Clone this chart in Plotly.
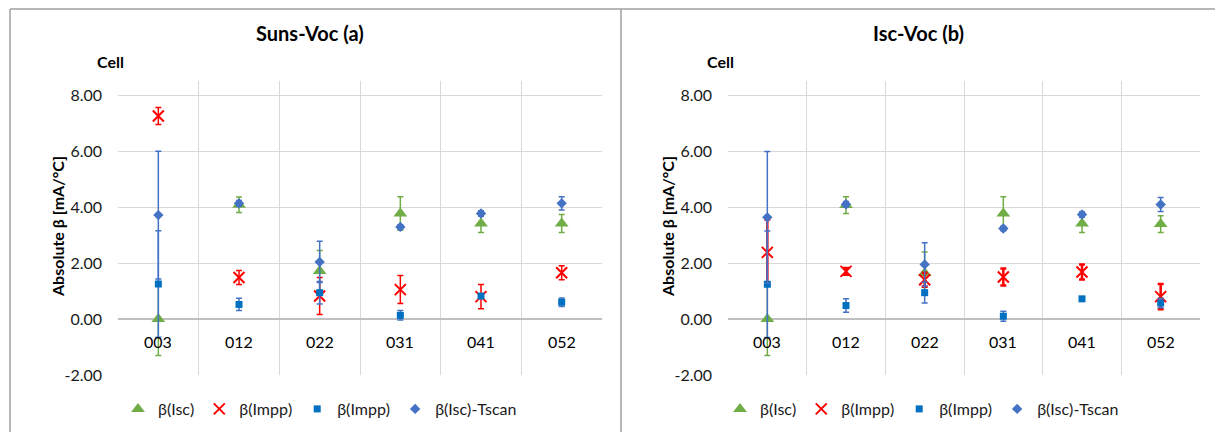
import plotly.graph_objects as go

cells = ["003", "012", "022", "031", "041", "052"]
y_tickvals = [-2, 0, 2, 4, 6, 8]
y_ticktext = ["-2.00", "0.00", "2.00", "4.00", "6.00", "8.00"]

# Suns-Voc (a)
isc_a = [0.0, 4.08, 1.71, 3.77, 3.41, 3.41]
isc_a_err = [1.3, 0.28, 0.74, 0.6, 0.32, 0.32]
imppx_a = [7.25, 1.48, 0.82, 1.05, 0.8, 1.65]
imppx_a_err = [0.3, 0.25, 0.66, 0.5, 0.43, 0.25]
imppsq_a = [1.25, 0.52, 0.94, 0.13, 0.82, 0.6]
imppsq_a_err = [1.9, 0.22, 0.4, 0.17, 0.0, 0.15]
tscan_a = [3.71, 4.13, 2.04, 3.29, 3.77, 4.13]
tscan_a_err = [2.28, 0.1, 0.74, 0.08, 0.1, 0.24]

# Isc-Voc (b)
isc_b = [0.0, 4.07, 1.64, 3.77, 3.41, 3.39]
isc_b_err = [1.3, 0.3, 0.75, 0.6, 0.32, 0.3]
imppx_b = [2.38, 1.7, 1.4, 1.5, 1.68, 0.8]
imppx_b_err = [1.17, 0.12, 0.25, 0.3, 0.27, 0.45]
imppsq_b = [1.24, 0.48, 0.94, 0.1, 0.72, 0.57]
imppsq_b_err = [1.9, 0.24, 0.37, 0.18, 0.0, 0.17]
tscan_b = [3.63, 4.1, 1.95, 3.23, 3.73, 4.09]
tscan_b_err = [2.35, 0.1, 0.77, 0.08, 0.1, 0.25]

titles = ["Suns-Voc (a)", "Isc-Voc (b)"]
series_names = ["β(Isc)", "β(Impp)", "β(Impp)", "β(Isc)-Tscan"]

GREEN = "#70AD47"
RED = "#FF0000"
BLUE_SQ = "#0070C0"
BLUE_DI = "#4472C4"
FONT = "Lato"
W, H = 1215, 432

fig = go.Figure()

panels = [
    dict(xa="x", ya="y", legend="legend",
         data=[(isc_a, isc_a_err), (imppx_a, imppx_a_err), (imppsq_a, imppsq_a_err), (tscan_a, tscan_a_err)],
         redw=1.5),
    dict(xa="x2", ya="y2", legend="legend2",
         data=[(isc_b, isc_b_err), (imppx_b, imppx_b_err), (imppsq_b, imppsq_b_err), (tscan_b, tscan_b_err)],
         redw=2.5),
]

styles = [
    dict(symbol="triangle-up", size=12, color=GREEN, line=dict(width=0)),
    dict(symbol="x-thin", size=11, color=RED, line=dict(width=2, color=RED)),
    dict(symbol="square", size=7, color=BLUE_SQ, line=dict(width=0)),
    dict(symbol="diamond", size=8, color=BLUE_DI, line=dict(width=0)),
]
err_colors = [GREEN, RED, BLUE_DI, BLUE_DI]

for p in panels:
    for k, (vals, errs) in enumerate(p["data"]):
        thick = p["redw"] if k == 1 else 1.5
        fig.add_trace(go.Scatter(
            x=cells, y=vals, mode="markers", name=series_names[k],
            marker=styles[k],
            error_y=dict(type="data", array=errs, visible=True,
                         color=err_colors[k], thickness=thick, width=3),
            xaxis=p["xa"], yaxis=p["ya"], legend=p["legend"],
        ))

ydom = [(H - 375) / H, (H - 81) / H]
axis_common_y = dict(range=[-2, 8.5], tickmode="array", tickvals=y_tickvals, ticktext=y_ticktext,
                     showgrid=True, gridcolor="#d9d9d9", gridwidth=1,
                     zeroline=True, zerolinecolor="#bfbfbf", zerolinewidth=1.5,
                     showline=False, ticks="", ticklen=0, ticklabelstandoff=15,
                     automargin=False,
                     tickfont=dict(family=FONT, size=16, color="#1a1a1a"),
                     domain=ydom)
axis_common_x = dict(type="category", categoryorder="array", categoryarray=cells,
                     tickson="boundaries", showgrid=True, gridcolor="#d9d9d9",
                     gridwidth=1, showticklabels=False, ticks="", zeroline=False,
                     showline=False, range=[-0.5, 5.5], automargin=False)

fig.update_layout(
    xaxis=dict(axis_common_x, domain=[118 / W, 602 / W]),
    xaxis2=dict(axis_common_x, domain=[728 / W, 1200 / W]),
    yaxis=dict(axis_common_y, anchor="x"),
    yaxis2=dict(axis_common_y, anchor="x2"),
)

annotations = []
shapes = []
panel_cfg = [
    dict(xa="x", ya="y", title_x=310, cell_x=110, ytitle_x=57, leg_x=318),
    dict(xa="x2", ya="y2", title_x=918, cell_x=720, ytitle_x=667, leg_x=920),
]
for i, pc in enumerate(panel_cfg):
    annotations.append(dict(text="<b>" + titles[i] + "</b>", x=pc["title_x"] / W, y=(H - 33) / H,
                            xref="paper", yref="paper", showarrow=False,
                            xanchor="center", yanchor="middle",
                            font=dict(family=FONT, size=20, color="#000000")))
    annotations.append(dict(text="<b>Cell</b>", x=pc["cell_x"] / W, y=(H - 62) / H,
                            xref="paper", yref="paper", showarrow=False,
                            xanchor="center", yanchor="middle",
                            font=dict(family=FONT, size=16, color="#000000")))
    annotations.append(dict(text="<b>Absolute β [mA/°C]</b>", x=pc["ytitle_x"] / W, y=(H - 227) / H,
                            xref="paper", yref="paper", showarrow=False, textangle=-90,
                            xanchor="center", yanchor="middle",
                            font=dict(family=FONT, size=16, color="#000000")))
    for j, c in enumerate(cells):
        annotations.append(dict(text=c, x=j, y=0, xref=pc["xa"], yref=pc["ya"],
                                showarrow=False, yshift=-22,
                                xanchor="center", yanchor="middle",
                                font=dict(family=FONT, size=16, color="#000000")))

# panel frames
frame = dict(type="line", xref="paper", yref="paper", line=dict(color="#a0a0a0", width=1.5))
shapes.append(dict(frame, x0=10 / W, x1=1.0, y0=(H - 9) / H, y1=(H - 9) / H))
shapes.append(dict(frame, x0=10 / W, x1=10 / W, y0=0, y1=(H - 9) / H))
shapes.append(dict(frame, x0=621 / W, x1=621 / W, y0=0, y1=(H - 9) / H))

legend_common = dict(orientation="h", yanchor="middle", xanchor="center",
                     y=(H - 409) / H, bgcolor="rgba(0,0,0,0)",
                     font=dict(family=FONT, size=16, color="#1a1a1a"),
                     itemwidth=30, tracegroupgap=0)

fig.update_layout(
    width=W, height=H,
    margin=dict(l=0, r=0, t=0, b=0, autoexpand=False),
    paper_bgcolor="white", plot_bgcolor="white",
    annotations=annotations, shapes=shapes,
    legend=dict(legend_common, x=320 / W),
    legend2=dict(legend_common, x=922 / W),
    showlegend=True,
    font=dict(family=FONT),
)

fig.write_html("out.html")
